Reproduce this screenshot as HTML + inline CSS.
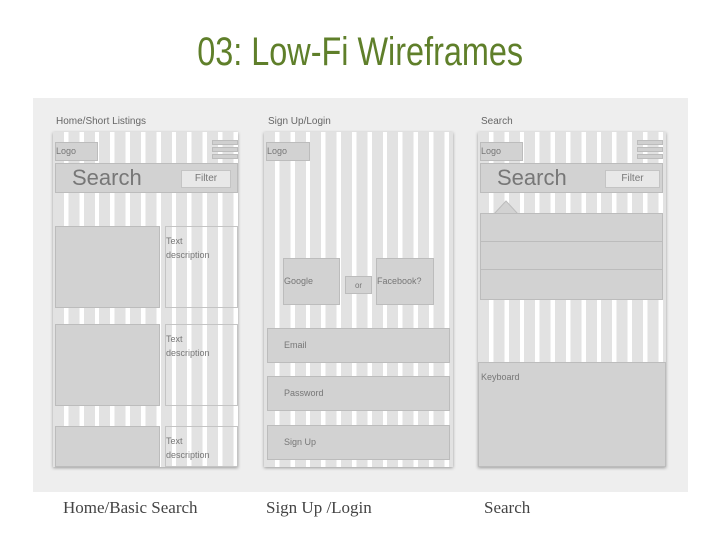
<!DOCTYPE html>
<html><head><meta charset="utf-8"><style>
*{margin:0;padding:0;box-sizing:border-box}
body{width:720px;height:540px;background:#fff;position:relative;overflow:hidden;font-family:"Liberation Sans",sans-serif}
.a{position:absolute}
.title{left:0;width:720px;top:28px;text-align:center;color:#5f7f2a;font-size:40px;line-height:48px}
.title span{display:inline-block;transform:scaleX(0.81)}
.panel{left:33px;top:98px;width:655px;height:394px;background:#eeeeee}
.frame{background-color:#fff;background-image:repeating-linear-gradient(90deg,#e2e2e2 0 11px,#fff 11px 15.4px);box-shadow:0 1px 3px rgba(0,0,0,.35)}
.box{background:#d2d2d2;border:1px solid #bcbcbc;color:#777;font-size:9px}
.ob{border:1px solid #c4c4c4;color:#777;font-size:9px;line-height:14px}
.lbl{color:#666;font-size:10px}
.cap{font-family:"Liberation Serif",serif;font-size:17px;color:#444;top:498px}
.hb{background:#d0d0d0;height:5px;width:26px;border:1px solid #bcbcbc}
</style></head><body>
<div class="a title"><span>03: Low-Fi Wireframes</span></div>
<div class="a panel"></div>

<div class="a lbl" style="left:56px;top:116px">Home/Short Listings</div>
<div class="a lbl" style="left:268px;top:116px">Sign Up/Login</div>
<div class="a lbl" style="left:481px;top:116px">Search</div>

<!-- Frame 1 -->
<div class="a frame" style="left:53px;top:132px;width:185px;height:335px"></div>
<div class="a box" style="left:55px;top:142px;width:43px;height:19px;line-height:17px">Logo</div>
<div class="a hb" style="left:212px;top:140px"></div>
<div class="a hb" style="left:212px;top:147px"></div>
<div class="a hb" style="left:212px;top:154px"></div>
<div class="a box" style="left:55px;top:163px;width:183px;height:30px"></div>
<div class="a" style="left:72px;top:164px;font-size:22px;color:#777;line-height:28px">Search</div>
<div class="a" style="left:181px;top:170px;width:50px;height:18px;background:#e8e8e8;border:1px solid #c4c4c4;font-size:10px;color:#777;text-align:center;line-height:16px">Filter</div>
<div class="a box" style="left:55px;top:226px;width:105px;height:82px"></div>
<div class="a ob" style="left:165px;top:226px;width:73px;height:82px;padding-top:7px">Text<br>description</div>
<div class="a box" style="left:55px;top:324px;width:105px;height:82px"></div>
<div class="a ob" style="left:165px;top:324px;width:73px;height:82px;padding-top:7px">Text<br>description</div>
<div class="a box" style="left:55px;top:426px;width:105px;height:41px"></div>
<div class="a ob" style="left:165px;top:426px;width:73px;height:41px;padding-top:7px">Text<br>description</div>

<!-- Frame 2 -->
<div class="a frame" style="left:264px;top:132px;width:189px;height:335px"></div>
<div class="a box" style="left:266px;top:142px;width:44px;height:19px;line-height:17px">Logo</div>
<div class="a box" style="left:283px;top:258px;width:57px;height:47px;line-height:44px">Google</div>
<div class="a box" style="left:345px;top:276px;width:27px;height:18px;text-align:center;line-height:18px;font-size:8px">or</div>
<div class="a box" style="left:376px;top:258px;width:58px;height:47px;line-height:44px">Facebook?</div>
<div class="a box" style="left:267px;top:328px;width:183px;height:35px;line-height:33px;padding-left:16px">Email</div>
<div class="a box" style="left:267px;top:376px;width:183px;height:35px;line-height:33px;padding-left:16px">Password</div>
<div class="a box" style="left:267px;top:425px;width:183px;height:35px;line-height:33px;padding-left:16px">Sign Up</div>

<!-- Frame 3 -->
<div class="a frame" style="left:478px;top:132px;width:188px;height:335px"></div>
<div class="a box" style="left:480px;top:142px;width:43px;height:19px;line-height:17px">Logo</div>
<div class="a hb" style="left:637px;top:140px"></div>
<div class="a hb" style="left:637px;top:147px"></div>
<div class="a hb" style="left:637px;top:154px"></div>
<div class="a box" style="left:480px;top:163px;width:183px;height:30px"></div>
<div class="a" style="left:497px;top:164px;font-size:22px;color:#777;line-height:28px">Search</div>
<div class="a" style="left:605px;top:170px;width:55px;height:18px;background:#e8e8e8;border:1px solid #c4c4c4;font-size:10px;color:#777;text-align:center;line-height:16px">Filter</div>
<svg class="a" style="left:493px;top:199px" width="26" height="16"><polygon points="1,15 13,2 25,15" fill="#d2d2d2" stroke="#bcbcbc"/></svg>
<div class="a box" style="left:480px;top:213px;width:183px;height:29px"></div>
<div class="a box" style="left:480px;top:241px;width:183px;height:29px"></div>
<div class="a box" style="left:480px;top:269px;width:183px;height:31px"></div>
<div class="a box" style="left:478px;top:362px;width:188px;height:105px;padding-top:9px;padding-left:2px">Keyboard</div>

<div class="a cap" style="left:63px">Home/Basic Search</div>
<div class="a cap" style="left:266px">Sign Up /Login</div>
<div class="a cap" style="left:484px">Search</div>
</body></html>
